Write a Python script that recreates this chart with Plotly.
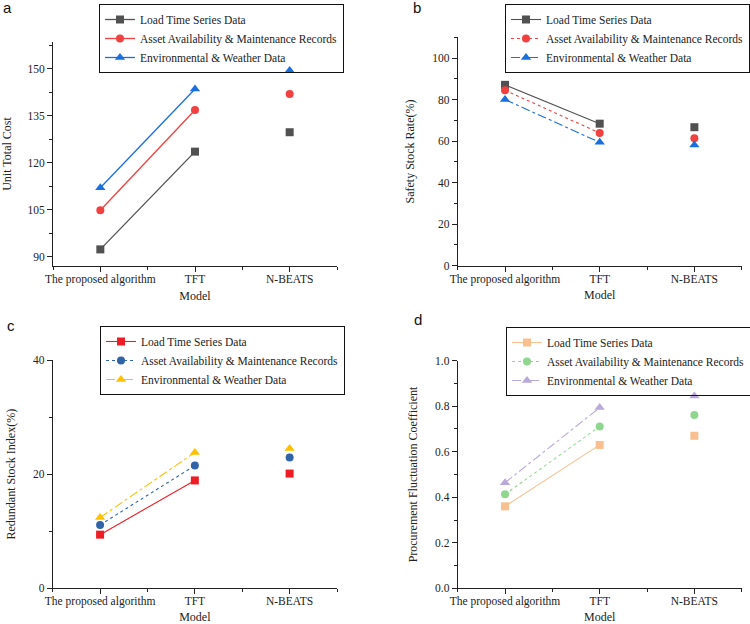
import plotly.graph_objects as go

models = ["The proposed algorithm", "TFT", "N-BEATS"]
series = ["Load Time Series Data", "Asset Availability & Maintenance Records", "Environmental & Weather Data"]

# panel a: Unit Total Cost
a_load = [92.3, 123.5, 129.7]
a_asset = [104.8, 136.8, 141.9]
a_env = [112.0, 143.5, 149.4]
# panel b: Safety Stock Rate(%)
b_load = [87.1, 68.4, 66.7]
b_asset = [84.5, 63.9, 61.4]
b_env = [80.0, 59.4, 58.1]
# panel c: Redundant Stock Index(%)
c_load = [9.4, 18.9, 20.1]
c_asset = [11.1, 21.5, 22.9]
c_env = [12.4, 23.8, 24.5]
# panel d: Procurement Fluctuation Coefficient
d_load = [0.36, 0.63, 0.67]
d_asset = [0.413, 0.711, 0.761]
d_env = [0.464, 0.794, 0.845]

n_connected = 2  # lines connect only the first two models

SERIF = "Liberation Serif"
SANS = "Liberation Sans"

panels = [
    dict(key="a", vals=[a_load, a_asset, a_env], colors=["#515151", "#F14040", "#1A6FDF"],
         dashes=["solid", "solid", "solid"], ytitle="Unit Total Cost",
         yrange=[87.0, 158.5], dtick=15, tick0=90, minor=7.5, fmt="d",
         xdom=[53/750, 337/750], ydom=[1-266/624, 1-42/624],
         leg=(99/750, 1-4/624), label=(7, 8), lw=1.3),
    dict(key="b", vals=[b_load, b_asset, b_env], colors=["#515151", "#F14040", "#1A6FDF"],
         dashes=["solid", "dot", "dashdot"], ytitle="Safety Stock Rate(%)",
         yrange=[0, 110], dtick=20, tick0=0, minor=10, fmt="d",
         xdom=[457.7/750, 741.7/750], ydom=[1-265.7/624, 1-37.3/624],
         leg=(505/750, 1-4/624), label=(417, 8), lw=1.1),
    dict(key="c", vals=[c_load, c_asset, c_env], colors=["#EE1C25", "#2F64A8", "#FFC000"],
         dashes=["solid", "dot", "dashdot"], ytitle="Redundant Stock Index(%)",
         yrange=[0, 40], dtick=20, tick0=0, minor=10, fmt="d",
         xdom=[52.7/750, 337/750], ydom=[1-588.3/624, 1-360/624],
         leg=(100/750, 1-326/624), label=(11, 325), lw=1.1),
    dict(key="d", vals=[d_load, d_asset, d_env], colors=["#F9BF8F", "#8FD68F", "#B9A8DB"],
         dashes=["solid", "dot", "dashdot"], ytitle="Procurement Fluctuation Coefficient",
         yrange=[0, 1.0], dtick=0.2, tick0=0, minor=0.1, fmt=".1f",
         xdom=[457.7/750, 741.7/750], ydom=[1-588.3/624, 1-360.7/624],
         leg=(506/750, 1-327/624), label=(418, 319), lw=1.1),
]
symbols = ["square", "circle", "triangle-up"]
msizes = [8, 8, 9]

xpos = list(range(len(models)))
fig = go.Figure()
layout = dict(width=750, height=624, margin=dict(l=0, r=0, t=0, b=0, autoexpand=False),
              paper_bgcolor="white", plot_bgcolor="white", showlegend=True,
              font=dict(family=SERIF, size=11, color="#222222"))
annotations = []

for i, p in enumerate(panels):
    n = i + 1
    xa = "x" if n == 1 else f"x{n}"
    ya = "y" if n == 1 else f"y{n}"
    legname = "legend" if n == 1 else f"legend{n}"
    for s in range(3):
        yv = p["vals"][s]
        fig.add_trace(go.Scatter(
            x=xpos[:n_connected], y=yv[:n_connected], mode="lines+markers", name=series[s],
            line=dict(color=p["colors"][s], width=p["lw"], dash=p["dashes"][s]),
            marker=dict(symbol=symbols[s], size=msizes[s], color=p["colors"][s]),
            xaxis=xa, yaxis=ya, legend=legname, legendgroup=f"{p['key']}{s}", cliponaxis=False))
        fig.add_trace(go.Scatter(
            x=xpos[n_connected:], y=yv[n_connected:], mode="markers", name=series[s],
            marker=dict(symbol=symbols[s], size=msizes[s], color=p["colors"][s]),
            xaxis=xa, yaxis=ya, legend=legname, legendgroup=f"{p['key']}{s}",
            showlegend=False, cliponaxis=False))
    xk = "xaxis" if n == 1 else f"xaxis{n}"
    yk = "yaxis" if n == 1 else f"yaxis{n}"
    layout[xk] = dict(domain=p["xdom"], anchor=ya, range=[-0.5, len(models) - 0.5],
                      automargin=False, ticklabelstandoff=-3,
                      tickmode="array", tickvals=xpos, ticktext=models,
                      showgrid=False, zeroline=False, showline=True, linecolor="#222222",
                      linewidth=1, ticks="outside", ticklen=5, tickcolor="#222222",
                      tickfont=dict(family=SERIF, size=11.5, color="#222222"),
                      minor=dict(tickmode="linear", tick0=-0.5, dtick=1, ticks="outside",
                                 ticklen=3, tickcolor="#222222", showgrid=False),
                      title=dict(text="Model", standoff=6,
                                 font=dict(family=SERIF, size=12, color="#222222")))
    layout[yk] = dict(domain=p["ydom"], anchor=xa, range=p["yrange"],
                      automargin=False,
                      tickmode="linear", tick0=p["tick0"], dtick=p["dtick"], tickformat=p["fmt"],
                      showgrid=False, zeroline=False, showline=True, linecolor="#222222",
                      linewidth=1, ticks="outside", ticklen=5, tickcolor="#222222",
                      tickfont=dict(family=SERIF, size=11.5, color="#222222"),
                      minor=dict(tickmode="linear", tick0=p["tick0"], dtick=p["minor"],
                                 ticks="outside", ticklen=3, tickcolor="#222222", showgrid=False),
                      title=dict(text=p["ytitle"], standoff=14,
                                 font=dict(family=SERIF, size=12, color="#222222")))
    layout[legname] = dict(x=p["leg"][0], y=p["leg"][1], xanchor="left", yanchor="top",
                           xref="paper", yref="paper",
                           bgcolor="rgba(255,255,255,0)", bordercolor="#111111", borderwidth=1,
                           font=dict(family=SERIF, size=11.5, color="#222222"),
                           itemwidth=30, tracegroupgap=0)
    annotations.append(dict(text=p["key"], x=p["label"][0] / 750, y=1 - p["label"][1] / 624,
                            xref="paper", yref="paper", xanchor="center", yanchor="middle",
                            showarrow=False, font=dict(family=SANS, size=15, color="#111111")))

layout["annotations"] = annotations
fig.update_layout(**layout)
fig.write_html("out.html")
